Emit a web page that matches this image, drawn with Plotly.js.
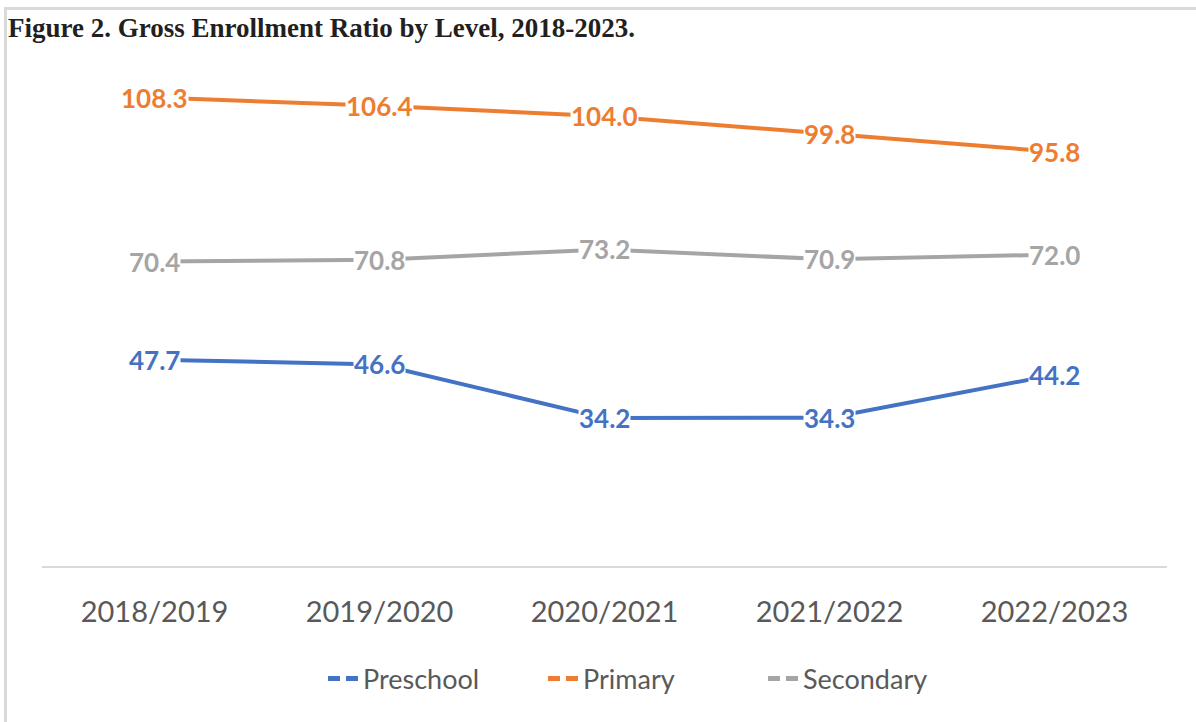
<!DOCTYPE html>
<html>
<head>
<meta charset="utf-8">
<script src="https://cdn.plot.ly/plotly-3.0.1.min.js"></script>
<style>
  html, body { margin: 0; padding: 0; background: #fff; }
  #wrap { position: relative; width: 1196px; height: 722px; }
  #chart { width: 1196px; height: 722px; }
  #frame { position: absolute; left: 4px; top: 7px; width: 1192px; height: 715px;
           border-top: 3px solid #d9d9d9; border-left: 3px solid #d9d9d9; pointer-events: none; box-sizing: border-box; }
</style>
</head>
<body>
<div id="wrap">
  <div id="chart"></div>
  <div id="frame"></div>
</div>
<script>
const categories = ["2018/2019", "2019/2020", "2020/2021", "2021/2022", "2022/2023"];
const preschool = [47.7, 46.6, 34.2, 34.3, 44.2];
const primary = [108.3, 106.4, 104.0, 99.8, 95.8];
const secondary = [70.4, 70.8, 73.2, 70.9, 72.0];
const seriesNames = ["Preschool", "Primary", "Secondary"];
const seriesColors = ["#4472C4", "#ED7D31", "#A5A5A5"];
const seriesValues = [preschool, primary, secondary];

const traces = [];
const annotations = [];
seriesValues.forEach((vals, i) => {
  traces.push({
    x: categories, y: vals, type: "scatter", mode: "lines",
    name: seriesNames[i], showlegend: false, hoverinfo: "skip",
    line: { color: seriesColors[i], width: 4 }
  });
  traces.push({
    x: [null], y: [null], type: "scatter", mode: "lines",
    name: seriesNames[i], showlegend: true,
    line: { color: seriesColors[i], width: 5, dash: "12px,6px" }
  });
  vals.forEach((v, j) => {
    annotations.push({
      x: categories[j], y: v, xref: "x", yref: "y",
      text: "<b>" + v.toFixed(1) + "</b>", showarrow: false,
      bgcolor: "#ffffff", borderpad: 0,
      font: { family: "Lato, 'Open Sans', sans-serif", size: 26, color: seriesColors[i] }
    });
  });
});

const layout = {
  width: 1196, height: 722,
  margin: { l: 42, r: 29, t: 47, b: 156 },
  paper_bgcolor: "#ffffff", plot_bgcolor: "#ffffff",
  title: {
    text: "<b>Figure 2. Gross Enrollment Ratio by Level, 2018-2023.</b>",
    xref: "container", yref: "container",
    x: 8 / 1196, xanchor: "left", y: 1 - 28 / 722, yanchor: "middle",
    font: { family: "'Liberation Serif', 'DejaVu Serif', serif", size: 27, color: "#231f20" }
  },
  xaxis: {
    type: "category", range: [-0.5, 4.5],
    showline: true, linecolor: "#d9d9d9", linewidth: 2,
    showgrid: false, zeroline: false, ticks: "",
    ticklabelstandoff: 19,
    tickfont: { family: "Lato, 'Open Sans', sans-serif", size: 29, color: "#595959" }
  },
  yaxis: { visible: false, range: [0, 120], fixedrange: true },
  showlegend: true,
  legend: {
    orientation: "h", xref: "container", yref: "container",
    x: 323 / 1196, xanchor: "left", y: 1 - 679 / 722, yanchor: "middle",
    entrywidth: 175, entrywidthmode: "pixels", itemwidth: 30,
    font: { family: "Lato, 'Open Sans', sans-serif", size: 27, color: "#595959" },
    bgcolor: "rgba(0,0,0,0)"
  },
  annotations: annotations,
  hovermode: false
};

Plotly.newPlot("chart", traces, layout, { displayModeBar: false, staticPlot: true });
</script>
</body>
</html>
